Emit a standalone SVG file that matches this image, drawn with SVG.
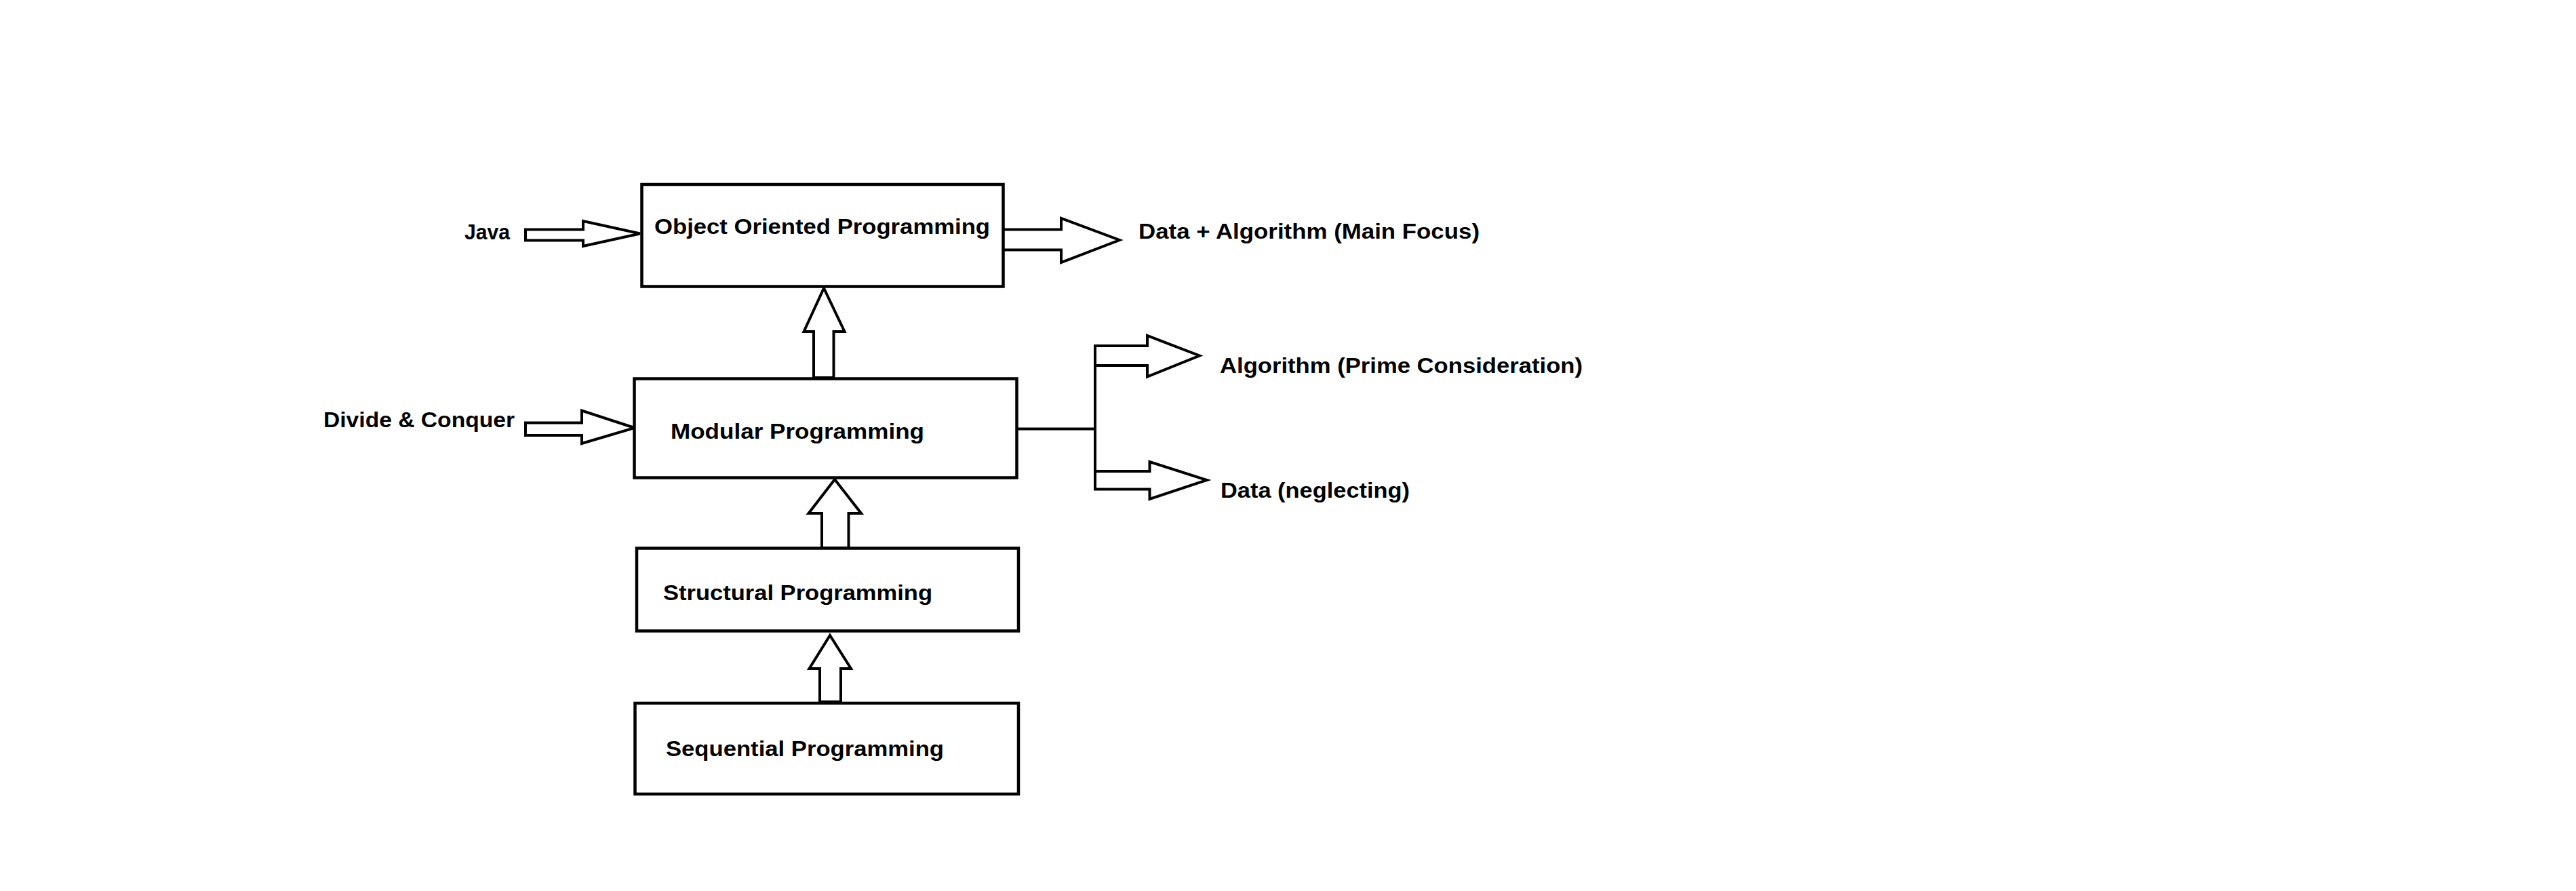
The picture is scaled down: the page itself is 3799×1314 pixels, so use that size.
<svg xmlns="http://www.w3.org/2000/svg" width="3799" height="1314" viewBox="0 0 3799 1314">
<style>
.box{fill:#fff;stroke:#000;stroke-width:4.5}
.arr{fill:#fff;stroke:#000;stroke-width:4;stroke-linejoin:miter}
.ln{fill:none;stroke:#000;stroke-width:4}
.t{font-family:"Liberation Sans",Arial,sans-serif;font-weight:bold;font-size:32px;fill:#000}
</style>
<rect width="3799" height="1314" fill="#fff"/>
<g id="connectors">
<path class="arr" d="M775,338.5 H860 V326 L944,344.5 L860,363 V354.5 H775 Z"/>
<path class="arr" d="M1480,338.5 H1565 V322 L1651,354 L1565,387 V368.5 H1480"/>
<path class="arr" d="M1200,557 V489 H1185.5 L1215,425 L1245.5,489 H1229.5 V557 Z"/>
<path class="arr" d="M775,623.5 H858 V605.5 L936,631 L858,654 V642 H775 Z"/>
<path class="ln" d="M1501,632.5 H1615"/>
<path class="arr" d="M1615,510 H1692 V495 L1769,524.5 L1692,555.5 V539 H1615 Z"/>
<path class="arr" d="M1615,695 H1695.5 V681 L1780,708 L1695.5,736 V721.5 H1615 Z"/>
<path class="ln" d="M1615,509 V723"/>
<path class="arr" d="M1212,808 V757 H1192.5 L1231,707 L1270,757 H1251.5 V808 Z"/>
<path class="arr" d="M1209,1035 V986 H1193.5 L1224,937 L1255,986 H1240 V1035 Z"/>
</g>
<g id="oop">
<rect class="box" x="946.5" y="272" width="533" height="150.5"/>
<text class="t" x="965" y="345" textLength="495" lengthAdjust="spacingAndGlyphs">Object Oriented Programming</text>
</g>
<g id="modular">
<rect class="box" x="935.5" y="558.5" width="564" height="146"/>
<text class="t" x="989" y="647" textLength="374" lengthAdjust="spacingAndGlyphs">Modular Programming</text>
</g>
<g id="structural">
<rect class="box" x="939" y="808.5" width="563" height="122"/>
<text class="t" x="978" y="885" textLength="397" lengthAdjust="spacingAndGlyphs">Structural Programming</text>
</g>
<g id="sequential">
<rect class="box" x="936.5" y="1037" width="565.5" height="134"/>
<text class="t" x="982" y="1115" textLength="410" lengthAdjust="spacingAndGlyphs">Sequential Programming</text>
</g>
<g id="java">
<text class="t" x="685" y="353" textLength="67" lengthAdjust="spacingAndGlyphs">Java</text>
</g>
<g id="divide">
<text class="t" x="477" y="630" textLength="282" lengthAdjust="spacingAndGlyphs">Divide &amp; Conquer</text>
</g>
<g id="data-algorithm">
<text class="t" x="1679" y="352" textLength="503" lengthAdjust="spacingAndGlyphs">Data + Algorithm (Main Focus)</text>
</g>
<g id="algorithm">
<text class="t" x="1799" y="550" textLength="535" lengthAdjust="spacingAndGlyphs">Algorithm (Prime Consideration)</text>
</g>
<g id="data">
<text class="t" x="1800" y="734" textLength="279" lengthAdjust="spacingAndGlyphs">Data (neglecting)</text>
</g>
</svg>
